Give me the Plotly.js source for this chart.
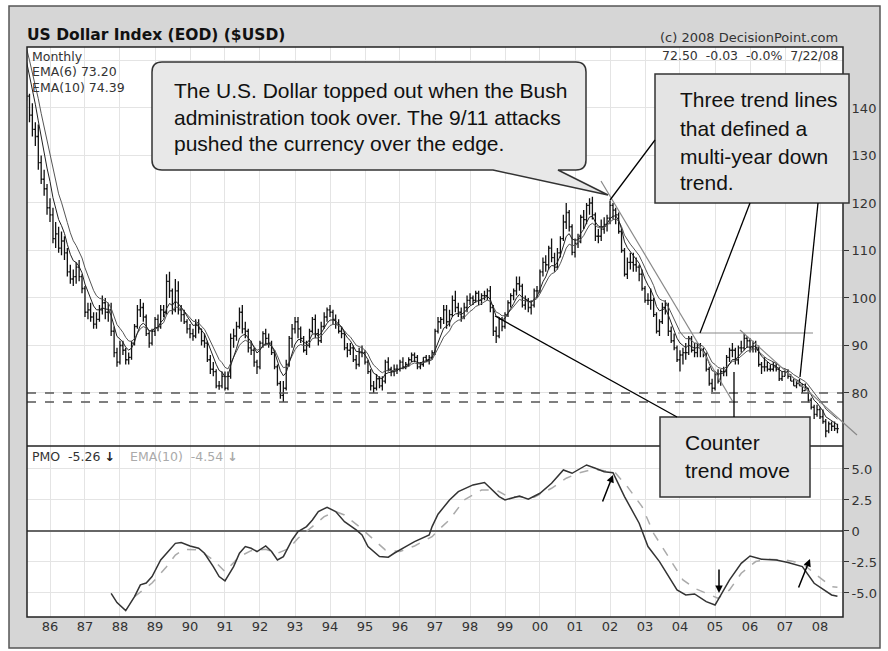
<!DOCTYPE html>
<html><head><meta charset="utf-8">
<script src="https://cdn.plot.ly/plotly-3.0.1.min.js"></script>
<style>html,body{margin:0;padding:0;background:#fff}#chart{width:888px;height:651px}</style>
</head><body><div id="chart"></div>
<script>
// ---- data (monthly bars, Feb 1985 .. Jul 2008) ----
const firstYear = 1985, firstMonth = 2;
const closes = [
 158.5,149,146,142.5,138.5,135.5,134,128.5,125,123,119,
 117.5,112.5,113.5,110.5,112,109.5,105.5,104,104.5,106.5,104.5,102,
 97,97.5,96,94.5,95.5,97.5,99,97,97.5,93,88.5,86.5,
 90,89,87,87.5,90.5,94,97.5,98,96,92.5,90.5,93,
 95.5,94,97.5,97,103.5,101.5,97.5,101.5,97.5,96.5,95,93.5,
 92.5,92,94.5,93.5,91,90.5,87,85,84.5,81.5,81.5,83.5,
 81,83.5,91.5,92,94,97,93.5,93,89.5,89,86.5,85.5,
 90.5,92.5,91.5,90.5,88.5,85.5,82,79.5,81,86,91.5,93.5,
 95,93.5,91.5,89,90,93,95.5,92.5,91,94,96,97.5,
 97,95.5,94.5,93,92.5,89.5,89,89.5,87,86,88.5,88.5,
 86.5,84.5,81.5,81,83,81.5,82.5,86.5,85,84.5,85,85,
 86.5,85.5,86,87,88,87.5,85.5,86,87.5,87,87.5,88.5,
 93,95,95.5,97.5,95,96.5,99.5,98,97,96,98,99.5,
 100,99.5,101,99.5,100.5,100.5,101.5,98,93,92,95.5,94,
 96.5,99,100.5,101.5,103,102.5,98.5,99.5,98,98.5,101.5,101.5,
 105.5,107.5,107,110.5,108.5,106.5,109.5,112.5,116,118,115,109.6,
 111.5,112.5,117,116.5,119.5,120,117.5,113,113,114.5,115.5,116.8,
 119.5,118.5,117.5,114,110,105,107.5,107.5,107,106.5,105,102,
 99.5,99.5,99.5,96.5,93,95,98,98.5,93,91,89.5,87,
 88,88.5,88.5,91.5,89,88.5,90,89,88,85,82,81,
 84,82.5,84.5,84.5,87.5,89,89,87,89.5,89.5,91.5,91,
 89.5,90.5,89.5,86,85.5,85.5,85,85,85.5,85,83,83.5,
 84.5,83.5,82.5,81.5,82,81.5,80.5,81,78.5,77,75.5,76.5,
 75,74,72,73.5,73,72.5,72.5];
const highs = [
 164.5,159,151,148,143,141,137,136.5,130,127,124,
 121,119,116,115,114,113,110.5,107,106,107.5,108,105,
 102.5,99,99,97,97,98.5,100.5,100,99,99,94,89.5,
 91,91,89.5,88.5,91,94.5,98.5,99.8,99,96.5,93,93.5,
 96,96.5,98.5,98.5,105,105.5,102,104,103.5,98.5,97.5,95.5,
 94.5,93.5,95.5,95.5,93.5,92.5,91,88,86.5,85,82.5,84.5,
 84.5,84.5,92.5,93.5,95,98,98.5,95,93.5,91,89.5,87,
 91,93,93.5,92.5,91,89,86,82.5,82.5,87,92,94.5,
 96,96,94,92,91,93.5,96,96.5,93.5,95,97,98,
 98.5,97.5,96.5,95.5,94,93,90.5,90.5,90,88,89.5,90,
 89,87,85,82.5,84,83.5,83.5,87,87.5,85.5,86,86,
 87,87.5,86.5,87.5,88.5,88.5,88,86.5,87.5,88,88,89,
 93.5,96,96,98.5,98.5,97.5,100.5,101.5,99,98,99,100.5,
 101,100.5,101.5,101.5,101,101.5,102,102.5,98.5,94,96,96,
 97,99.5,101,102,104.5,104.5,103,100.5,100,99.5,102,102.5,
 106,108.5,109,111,112.5,109.5,110.5,113,117.5,120,118.5,115.5,
 112.5,113.5,117.5,118.5,120,121,121.3,118,114.5,116.5,117,117.5,
 120.5,120,119,118,114.5,110.5,108.5,109.5,109.5,108.5,107,106,
 102.5,101,102,100,97,95.5,99,99.5,99,94,92.5,90,
 89,89.5,90.5,92,92,90.5,90.5,90.5,89.5,88.5,85.5,83,
 84.5,85,85,85.5,88,89.5,90.5,89.5,90,91,92.6,92,
 91.5,91,91,90,86.5,87.5,86.5,86,86.5,86.5,85.5,84.5,
 85,85,84,83,82.5,83,82,82,81,79,77.5,77.5,
 77,76.5,74.5,74,74,74,73.5];
const lows = [
 152,146,143.5,141.5,137,134,132,127,124,121.5,117.5,
 116,111.5,110.5,109.5,109,108,104.5,103,102.5,103,103.5,101,
 96,95.5,95,93.5,93.5,95,96.5,95.5,95,92,87.5,85.5,
 86,88,86,86,87,90,93.5,96,95,92,89.5,90,
 92,93,93.5,96,96.5,100,96.5,97,96.5,95,94.5,92.5,
 91.5,91,91.5,92.5,90,89.5,86.5,84,83.5,81,80.7,81,
 80.5,80.6,83,89.5,91,93.5,92.5,91.5,88.5,88,85.5,84,
 85,89.5,90,89.5,88,85,81.5,78.8,78.1,80.5,85.5,89.5,
 92.5,91.5,90.5,88.5,88,89.5,92.5,91.5,90,90.5,93.5,95,
 96,94.5,93.5,92.5,91.5,89,87.5,88,86.5,85,85.5,87.5,
 86,84,80.5,80,80.5,81,80.5,82,84.5,83.5,83.5,84,
 84.5,85,85,85.5,86.5,86.5,85,85,85.5,86.5,86,87,
 88,92.5,93.5,94.5,93.5,94,96,97,96,95,95.5,97,
 98.5,98.5,99,98.5,98.5,99.5,99.5,97,92,90.5,91.5,93,
 93.5,96,98,99.5,100.5,101.5,98,97.5,97,96.5,98,100,
 101,104.5,105.5,106,107.5,105.5,106,108.5,112,114.5,114,109,
 108.5,110.5,111.5,114.5,115.5,117.5,116.5,112,111.5,112,113.5,114,
 115.5,116.5,115.5,113.5,109.5,104.5,104,106,105.5,105.5,103.5,101.5,
 99,98.5,97.5,96,92.5,92,94.5,96.5,92,90.5,89,86.5,
 84.5,86,87,88,88.5,87.5,87.5,87.5,87.5,84.5,81.5,80.2,
 80.5,82,81.5,83.5,83.5,86.5,87.5,86,86,88.5,89,89.5,
 88.5,88.5,88.5,85.5,84,84.5,84.5,84.5,84.5,84.5,82.5,82.5,
 83.5,83,82.5,81.5,81,81.5,80,80.5,78,76.5,74.5,75,
 74.5,73.5,70.7,71.5,72,72,71.5];

const yearLabels = ['86','87','88','89','90','91','92','93','94','95','96','97','98','99','00','01','02','03','04','05','06','07','08'];

const pmoDates = ['1987-10','1987-12','1988-03','1988-06','1988-08','1988-10','1988-12','1989-03','1989-06','1989-08','1989-10',
 '1990-01','1990-04','1990-06','1990-09','1990-11','1991-01','1991-04','1991-06','1991-08','1991-10','1991-12',
 '1992-03','1992-05','1992-07','1992-09','1992-12','1993-02','1993-05','1993-07','1993-09','1993-12',
 '1994-03','1994-06','1994-10','1994-12','1995-02','1995-06','1995-09','1995-11','1996-03','1996-06','1996-11','1996-12',
 '1997-02','1997-06','1997-09','1998-02','1998-06','1998-11','1999-01','1999-06','1999-09',
 '2000-01','2000-05','2000-09','2000-12','2001-05','2001-08','2001-11','2002-02','2002-06','2002-11',
 '2003-02','2003-06','2003-09','2003-12','2004-03','2004-06','2004-10','2005-01','2005-02','2005-06','2005-10',
 '2006-01','2006-05','2006-10','2007-02','2007-07','2007-11','2008-05','2008-07'];
const pmoValues = [-5.03,-5.78,-6.42,-5.3,-4.35,-4.2,-3.68,-2.34,-1.53,-1.0,-0.94,
 -1.21,-1.4,-1.8,-2.88,-3.68,-4.03,-2.88,-1.8,-1.26,-1.4,-1.66,
 -1.21,-1.66,-2.34,-2.07,-0.73,-0.05,0.35,0.89,1.56,1.91,
 1.56,0.75,0.08,-0.32,-1.26,-2.07,-2.12,-1.8,-1.26,-0.86,-0.32,0.35,
 1.35,2.5,3.17,3.71,3.9,2.77,2.5,2.82,2.56,
 3.04,3.85,4.92,4.65,5.32,5.06,4.78,4.7,2.77,0.62,
 -1.26,-2.47,-3.68,-4.76,-5.16,-5.08,-5.7,-5.97,-5.56,-3.95,-2.61,
 -2.02,-2.28,-2.34,-2.55,-2.88,-4.22,-5.16,-5.26];

const sigDates = ['1988-06','1988-12','1989-05','1989-08','1989-11','1990-04','1990-09','1991-01','1991-06','1991-10',
 '1992-03','1992-07','1992-11','1993-02','1993-07','1993-11','1994-03','1994-06','1994-11','1995-04','1995-08',
 '1996-01','1996-06','1996-12','1997-02','1997-06','1997-11','1998-05','1998-10','1999-02','1999-07','1999-11',
 '2000-05','2000-10','2001-02','2001-07','2001-11','2002-03','2002-07','2002-12','2003-04','2003-09',
 '2004-02','2004-06','2004-10','2005-02','2005-06','2005-10','2006-03','2006-07','2007-01','2007-07','2007-11','2008-05','2008-07'];
const sigValues = [-5.3,-4.2,-2.88,-1.94,-1.48,-1.53,-2.34,-3.28,-2.07,-1.59,
 -1.48,-1.8,-1.4,-0.59,0.35,1.15,1.56,1.29,0.35,-0.73,-1.53,
 -1.66,-1.21,-0.46,0.05,0.9,2.5,3.3,3.3,2.77,2.72,2.72,
 3.44,4.25,4.65,4.97,4.86,4.65,3.57,1.96,-0.19,-2.07,
 -3.95,-4.62,-5.03,-5.43,-4.76,-3.41,-2.47,-2.28,-2.34,-2.61,-3.41,-4.49,-4.54];

const priceTicks = [80,90,100,110,120,130,140];
const pmoTicks = [-5,-2.5,0,2.5,5];
const pmoTickText = ['-5.0','-2.5','0','2.5','5.0'];
const supportLevels = [80, 78.1];

// ---- derived ----
const dates = closes.map((_, i) => {
  const m = firstMonth - 1 + i;
  const y = firstYear + Math.floor(m / 12);
  return y + '-' + String(m % 12 + 1).padStart(2, '0') + '-01';
});
const opens = closes.map((c, i) => i === 0 ? c : closes[i - 1]);
function ema(arr, n) {
  const k = 2 / (n + 1); let e = arr[0];
  return arr.map((v, i) => { e = i === 0 ? v : v * k + e * (1 - k); return e; });
}
const ema6 = ema(closes, 6), ema10 = ema(closes, 10);
const yearDates = yearLabels.map((_, i) => (1986 + i) + '-01-01');

// ---- layout helpers (pixel -> paper) ----
const L = 27, R = 843, T = 47, B = 617;
const px = x => (x - L) / (R - L);
const py = y => (B - y) / (B - T);
const seg = (x0, y0, x1, y1, color, w) => ({type:'line', xref:'paper', yref:'paper',
  x0:px(x0), y0:py(y0), x1:px(x1), y1:py(y1), line:{color:color, width:w}});
const rect = (x0, y0, x1, y1, fill, color, w) => ({type:'rect', xref:'paper', yref:'paper',
  x0:px(x0), y0:py(y0), x1:px(x1), y1:py(y1), fillcolor:fill, line:{color:color, width:w}});
const P = (x, y) => px(x).toFixed(5) + ',' + py(y).toFixed(5);

const callout1 = 'M' + P(162,62) + ' L' + P(576,62) + ' Q' + P(586,62) + ' ' + P(586,72) +
  ' L' + P(586,160) + ' Q' + P(586,170) + ' ' + P(576,170) + ' L' + P(558,170) + ' L' + P(608,195) +
  ' L' + P(493,170) + ' L' + P(162,170) + ' Q' + P(152,170) + ' ' + P(152,160) + ' L' + P(152,72) +
  ' Q' + P(152,62) + ' ' + P(162,62) + ' Z';

const shapes = [
  rect(0, 0, 9, 651, '#ffffff', 'rgba(0,0,0,0)', 0),
  rect(880, 0, 888, 651, '#ffffff', 'rgba(0,0,0,0)', 0),
  rect(0, 0, 888, 6, '#ffffff', 'rgba(0,0,0,0)', 0),
  rect(0, 648, 888, 651, '#ffffff', 'rgba(0,0,0,0)', 0),
  rect(9, 6, 880, 648, 'rgba(0,0,0,0)', '#555', 1.5),
  {type:'line', xref:'paper', yref:'y', x0:0, x1:1, y0:150, y1:150, layer:'below', line:{color:'#e4e4e4', width:1}},
];
supportLevels.forEach(v => shapes.push({type:'line', xref:'paper', yref:'y', x0:0, x1:1, y0:v, y1:v,
  line:{color:'#555', width:1.5, dash:'dash'}}));
shapes.push(rect(L, T, R, B, 'rgba(0,0,0,0)', '#222', 1.5));
shapes.push(seg(L, 446, R, 446, '#222', 1.5));
// trend lines
shapes.push(seg(601, 181, 733, 402, '#888', 1.2));
shapes.push(seg(678, 333, 813, 333, '#888', 1.2));
shapes.push(seg(740, 330, 857, 435, '#888', 1.2));
// callouts
shapes.push({type:'path', xref:'paper', yref:'paper', path:callout1, fillcolor:'#e8e8e8', line:{color:'#333', width:1.5}});
shapes.push(rect(655, 74, 849, 203, '#e4e4e4', '#333', 1.5));
shapes.push(rect(660, 417, 810, 497, '#e4e4e4', '#333', 1.5));
// pointers
shapes.push(seg(655, 140, 610, 200, '#000', 1.3));
shapes.push(seg(750, 203, 700, 333, '#000', 1.3));
shapes.push(seg(818, 203, 800, 377, '#000', 1.3));
shapes.push(seg(495, 316, 677, 417, '#000', 1.3));
shapes.push(seg(734, 372, 734, 417, '#000', 1.3));

const small = {family:'DejaVu Sans, Verdana, sans-serif', size:12.5, color:'#333'};
const big = {family:'Liberation Sans, Arial, sans-serif', size:21, color:'#111'};
const txt = (x, y, text, font, anchor) => ({xref:'paper', yref:'paper', x:px(x), y:py(y), text:text,
  showarrow:false, xanchor:anchor || 'left', yanchor:'middle', font:font});
const nb = '\u00a0';
const annotations = [
  txt(840, 38, '(c) 2008 DecisionPoint.com', Object.assign({}, small, {size:13}), 'right'),
  txt(840, 55, '72.50' + nb + nb + '-0.03' + nb + nb + '-0.0%' + nb + nb + '7/22/08', small, 'right'),
  txt(30, 56, 'Monthly', small),
  txt(30, 71, 'EMA(6) 73.20', small),
  txt(30, 87, 'EMA(10) 74.39', small),
  txt(30, 456, 'PMO' + nb + nb + '-5.26 <span style="color:#222"><b>\u2193</b></span>', small),
  txt(128, 456, 'EMA(10)' + nb + nb + '-4.54 <span style="color:#aaa"><b>\u2193</b></span>', Object.assign({}, small, {color:'#aaa'})),
  txt(172, 90, 'The U.S. Dollar topped out when the Bush', big),
  txt(172, 117, 'administration took over. The 9/11 attacks', big),
  txt(172, 143, 'pushed the currency over the edge.', big),
  txt(678, 100, 'Three trend lines', big),
  txt(678, 128, 'that defined a', big),
  txt(678, 156, 'multi-year down', big),
  txt(678, 183, 'trend.', big),
  txt(683, 443, 'Counter', big),
  txt(683, 470, 'trend move', big),
];
const arrow = (x, y, ax, ay) => ({xref:'paper', yref:'paper', x:px(x), y:py(y), ax:ax, ay:ay, text:'',
  showarrow:true, arrowhead:2, arrowsize:1, arrowwidth:1.5, arrowcolor:'#000'});
annotations.push(arrow(613, 475, -11, 28), arrow(719, 593, 0, -25), arrow(810, 559, -12, 30));

const traces = [
  {type:'ohlc', x:dates, open:opens, high:highs, low:lows, close:closes, xaxis:'x', yaxis:'y',
   increasing:{line:{color:'#111', width:1.3}}, decreasing:{line:{color:'#111', width:1.3}}, tickwidth:0.5, hoverinfo:'skip'},
  {type:'scatter', mode:'lines', x:dates, y:ema10, xaxis:'x', yaxis:'y', line:{color:'#555', width:1}, hoverinfo:'skip'},
  {type:'scatter', mode:'lines', x:dates, y:ema6, xaxis:'x', yaxis:'y', line:{color:'#222', width:1}, hoverinfo:'skip'},
  {type:'scatter', mode:'lines', x:sigDates, y:sigValues, xaxis:'x', yaxis:'y2', line:{color:'#aaa', width:1.5, dash:'dash'}, hoverinfo:'skip'},
  {type:'scatter', mode:'lines', x:pmoDates, y:pmoValues, xaxis:'x', yaxis:'y2', line:{color:'#333', width:1.5}, hoverinfo:'skip'},
];

const layout = {
  width:888, height:651, margin:{l:L, r:888 - R, t:T, b:651 - B},
  paper_bgcolor:'#d6d6d6', plot_bgcolor:'#ffffff', showlegend:false, hovermode:false, dragmode:false,
  font:{family:'DejaVu Sans, Verdana, sans-serif', size:12.5, color:'#333'},
  title:{text:'<b>US Dollar Index (EOD) ($USD)</b>', xref:'container', yref:'container', x:27/888, xanchor:'left',
         y:1 - 35/651, yanchor:'middle', font:{family:'DejaVu Sans, Verdana, sans-serif', size:15.5, color:'#111'}},
  xaxis:{type:'date', range:['1985-05-06','2008-08-28'], anchor:'y2', tickvals:yearDates, ticktext:yearLabels,
         showgrid:true, gridcolor:'#e4e4e4', gridwidth:1, ticks:'', zeroline:false, showline:false,
         tickfont:{size:13, color:'#333'}, rangeslider:{visible:false}, fixedrange:true},
  yaxis:{domain:[0.3, 1], range:[68.84, 152.84], side:'right', anchor:'x', tickvals:priceTicks,
         ticks:'outside', ticklen:5, tickcolor:'#333', gridcolor:'#e4e4e4', zeroline:false, showline:false,
         tickfont:{size:13, color:'#333'}, fixedrange:true},
  yaxis2:{domain:[0, 0.3], range:[-6.94, 6.85], side:'right', anchor:'x', tickvals:pmoTicks, ticktext:pmoTickText,
         ticks:'outside', ticklen:5, tickcolor:'#333', gridcolor:'#e4e4e4', zeroline:true, zerolinecolor:'#666',
         zerolinewidth:1.5, showline:false, tickfont:{size:13, color:'#333'}, fixedrange:true},
  shapes:shapes, annotations:annotations
};
Plotly.newPlot('chart', traces, layout, {staticPlot:true, displayModeBar:false});
</script></body></html>
